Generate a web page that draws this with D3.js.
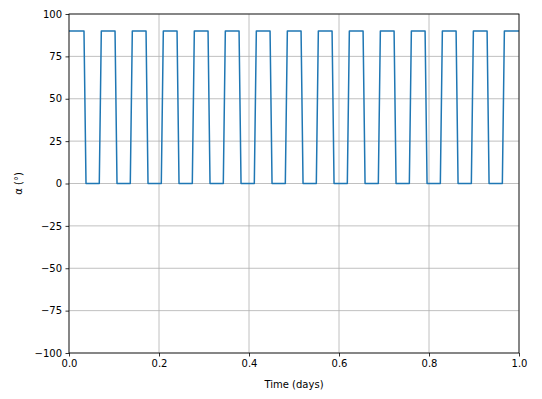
<!DOCTYPE html>
<html lang="en">
<head>
<meta charset="UTF-8">
<title>Alpha over time</title>
<script src="https://d3js.org/d3.v7.min.js"></script>
<style>
    body { margin: 0; background: #fff; }
    svg { display: block; }
    svg text { font-family: "DejaVu Sans", sans-serif; }
    .grid line { stroke: #b0b0b0; stroke-width: 0.8px; }
    .axis text { font-size: 10px; fill: #000; font-family: "DejaVu Sans", sans-serif; }
    .axis line, .axis path { stroke: #000; stroke-width: 0.8px; }
</style>
</head>
<body>
<svg width="542" height="399"></svg>
<script>
// corner points of the attitude profile
const timeDays = [
    0.0000,
    0.0333, 0.0378, 0.0673, 0.0718,
    0.1023, 0.1067, 0.1362, 0.1407,
    0.1712, 0.1756, 0.2051, 0.2096,
    0.2401, 0.2445, 0.2740, 0.2785,
    0.3090, 0.3134, 0.3429, 0.3474,
    0.3779, 0.3823, 0.4118, 0.4163,
    0.4468, 0.4512, 0.4807, 0.4852,
    0.5157, 0.5201, 0.5496, 0.5541,
    0.5846, 0.5890, 0.6185, 0.6230,
    0.6535, 0.6579, 0.6874, 0.6919,
    0.7224, 0.7268, 0.7563, 0.7608,
    0.7913, 0.7957, 0.8252, 0.8297,
    0.8602, 0.8646, 0.8941, 0.8986,
    0.9291, 0.9335, 0.9630, 0.9675,
    1.0000
];
const alphaDeg = [
    90,
    90, 0, 0, 90,
    90, 0, 0, 90,
    90, 0, 0, 90,
    90, 0, 0, 90,
    90, 0, 0, 90,
    90, 0, 0, 90,
    90, 0, 0, 90,
    90, 0, 0, 90,
    90, 0, 0, 90,
    90, 0, 0, 90,
    90, 0, 0, 90,
    90, 0, 0, 90,
    90, 0, 0, 90,
    90, 0, 0, 90,
    90
];
const xTicks = [0, 0.2, 0.4, 0.6, 0.8, 1.0];
const yTicks = [-100, -75, -50, -25, 0, 25, 50, 75, 100];

const svg = d3.select("svg");
const margin = { left: 69, right: 23, top: 14, bottom: 46 };
const width = 542, height = 399;

const x = d3.scaleLinear().domain([0, 1]).range([margin.left, width - margin.right]);
const y = d3.scaleLinear().domain([-100, 100]).range([height - margin.bottom, margin.top]);

// grid
const grid = svg.append("g").attr("class", "grid");
grid.selectAll(".gx").data(xTicks).enter().append("line")
    .attr("x1", d => x(d)).attr("x2", d => x(d))
    .attr("y1", y(-100)).attr("y2", y(100));
grid.selectAll(".gy").data(yTicks).enter().append("line")
    .attr("x1", x(0)).attr("x2", x(1))
    .attr("y1", d => y(d)).attr("y2", d => y(d));

// the series
const pts = timeDays.map((t, i) => [t, alphaDeg[i]]);
svg.append("path")
    .datum(pts)
    .attr("fill", "none")
    .attr("stroke", "#1f77b4")
    .attr("stroke-width", 1.5)
    .attr("stroke-linejoin", "round")
    .attr("d", d3.line().x(d => x(d[0])).y(d => y(d[1])));

// axes
svg.append("g").attr("class", "axis")
    .attr("transform", `translate(0,${y(-100)})`)
    .call(d3.axisBottom(x).tickValues(xTicks).tickFormat(d3.format(".1f")).tickSize(3.5).tickPadding(3.5));
svg.append("g").attr("class", "axis")
    .attr("transform", `translate(${x(0)},0)`)
    .call(d3.axisLeft(y).tickValues(yTicks).tickFormat(d3.format("d")).tickSize(3.5).tickPadding(3.5));
svg.selectAll(".axis .domain").remove();

// frame
svg.append("rect")
    .attr("x", x(0)).attr("y", y(100))
    .attr("width", x(1) - x(0)).attr("height", y(-100) - y(100))
    .attr("fill", "none").attr("stroke", "#000").attr("stroke-width", 0.8);

// labels
svg.append("text")
    .attr("x", (x(0) + x(1)) / 2).attr("y", 388)
    .attr("text-anchor", "middle").attr("font-size", 10)
    .text("Time (days)");
svg.append("text")
    .attr("transform", `translate(22,${y(0)}) rotate(-90)`)
    .attr("text-anchor", "middle").attr("font-size", 10)
    .text("α (°)");
</script>
</body>
</html>
